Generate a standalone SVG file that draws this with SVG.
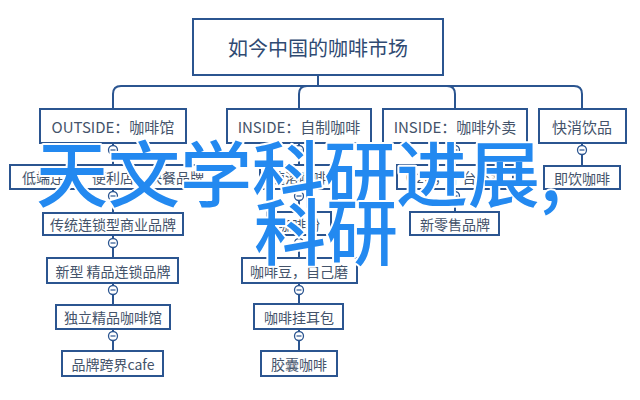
<svg xmlns="http://www.w3.org/2000/svg" width="640" height="400" viewBox="0 0 640 400">
<style>
.box{fill:#fff;stroke:#2b5590;stroke-width:2}
.t{font-family:"Noto Sans CJK SC","Noto Sans",sans-serif;fill:#44536a;text-anchor:middle;dominant-baseline:central}
.t1{font-size:15px}
.t2{font-size:14px}
.root{font-size:20px;fill:#2f4a72}
.ln{fill:none;stroke:#2b5590;stroke-width:2}
.c{fill:#fff;stroke:#2b5590;stroke-width:1.3}
.m{stroke:#2b5590;stroke-width:1.2}
.ov{font-family:"Noto Sans CJK SC",sans-serif;font-size:72px;font-weight:500;fill:#2389f0;stroke:#fff;stroke-width:4;paint-order:stroke;stroke-linejoin:round}
</style>
<defs>
<g id="tog"><circle class="c" r="4.5"/><line class="m" x1="-2.5" y1="0" x2="2.5" y2="0"/></g>
</defs>
<rect width="640" height="400" fill="#fff"/>
<g id="connectors">
<path class="ln" d="M318,75 V86"/>
<path class="ln" d="M113,109 V94 Q113,86 121,86 H574 Q582,86 582,94 V109"/>
<path class="ln" d="M299,109 V94 Q299,86 307,86"/>
<path class="ln" d="M455,109 V94 Q455,86 447,86"/>
<path class="ln" d="M113,143 V165 M113,189 V213 M113,235 V258 M113,283 V305 M113,329 V351"/>
<path class="ln" d="M299,143 V165 M299,189 V212 M299,235 V258 M299,283 V304 M299,329 V351"/>
<path class="ln" d="M455,143 V165 M455,189 V212"/>
<path class="ln" d="M582,143 V166"/>
<use href="#tog" x="113" y="150"/><use href="#tog" x="113" y="196"/><use href="#tog" x="113" y="243"/><use href="#tog" x="113" y="290"/><use href="#tog" x="113" y="336"/>
<use href="#tog" x="299" y="150"/><use href="#tog" x="299" y="196"/><use href="#tog" x="299" y="243"/><use href="#tog" x="299" y="290"/><use href="#tog" x="299" y="336"/>
<use href="#tog" x="455" y="150"/><use href="#tog" x="455" y="196"/>
<use href="#tog" x="582" y="150"/>
</g>
<g id="root"><rect class="box" x="193" y="19" width="250" height="56"/><text class="t root" x="318" y="47">如今中国的咖啡市场</text></g>
<g id="outside"><rect class="box" x="40" y="109" width="146" height="34"/><text class="t t1" x="113" y="126">OUTSIDE：咖啡馆</text></g>
<g id="inside1"><rect class="box" x="227" y="109" width="144" height="34"/><text class="t t1" x="299" y="126">INSIDE：自制咖啡</text></g>
<g id="inside2"><rect class="box" x="383" y="109" width="144" height="34"/><text class="t t1" x="455" y="126">INSIDE：咖啡外卖</text></g>
<g id="fmcg"><rect class="box" x="539" y="109" width="87" height="34"/><text class="t t1" x="582" y="126">快消饮品</text></g>
<g id="n11"><rect class="box" x="10" y="165" width="206" height="24"/><text class="t t2" x="113" y="177">低端连锁、便利店、快餐品牌</text></g>
<g id="n12"><rect class="box" x="43" y="213" width="140" height="22"/><text class="t t2" x="113" y="224">传统连锁型商业品牌</text></g>
<g id="n13"><rect class="box" x="47" y="258" width="131" height="25"/><text class="t t2" x="113" y="270.5">新型 精品连锁品牌</text></g>
<g id="n14"><rect class="box" x="56" y="305" width="114" height="24"/><text class="t t2" x="113" y="317">独立精品咖啡馆</text></g>
<g id="n15"><rect class="box" x="62" y="351" width="101" height="25"/><text class="t t2" x="113" y="363.5">品牌跨界cafe</text></g>
<g id="n21"><rect class="box" x="260" y="165" width="78" height="24"/><text class="t t2" x="299" y="177">速溶咖啡</text></g>
<g id="n22"><rect class="box" x="267" y="212" width="64" height="23"/><text class="t t2" x="299" y="223.5">咖啡粉</text></g>
<g id="n23"><rect class="box" x="242" y="258" width="115" height="25"/><text class="t t2" x="299" y="270.5">咖啡豆，自己磨</text></g>
<g id="n24"><rect class="box" x="254" y="304" width="89" height="25"/><text class="t t2" x="299" y="316.5">咖啡挂耳包</text></g>
<g id="n25"><rect class="box" x="261" y="351" width="76" height="25"/><text class="t t2" x="299" y="363.5">胶囊咖啡</text></g>
<g id="n31"><rect class="box" x="397" y="165" width="116" height="24"/><text class="t t2" x="455" y="177">O2O，平台外卖</text></g>
<g id="n32"><rect class="box" x="410" y="212" width="89" height="23"/><text class="t t2" x="455" y="223.5">新零售品牌</text></g>
<g id="n41"><rect class="box" x="544" y="166" width="76" height="23"/><text class="t t2" x="582" y="177.5">即饮咖啡</text></g>
<g id="overlay">
<text class="ov" x="36" y="201">天文学科研进展,</text>
<text class="ov" x="254" y="259">科研</text>
</g>
</svg>
